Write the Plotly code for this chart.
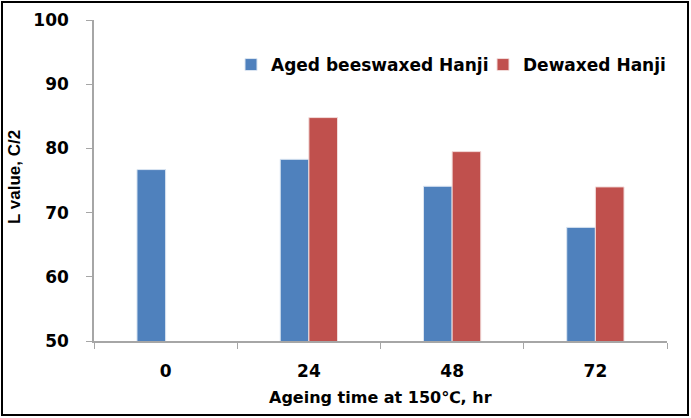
import plotly.graph_objects as go

categories = ["0", "24", "48", "72"]
aged_beeswaxed = [76.7, 78.3, 74.1, 67.7]
dewaxed = [None, 84.8, 79.5, 74.0]
series_names = ["Aged beeswaxed Hanji", "Dewaxed Hanji"]
y_ticks = [50, 60, 70, 80, 90, 100]
x_title = "Ageing time at 150℃, hr"
y_title = "L value, C/2"

FONT = "DejaVu Sans"

fig = go.Figure()
fig.add_trace(go.Bar(x=categories, y=aged_beeswaxed, name=series_names[0],
                     marker=dict(color="#4F81BD", line=dict(color="#DCE6F2", width=1))))
fig.add_trace(go.Bar(x=categories, y=dewaxed, name=series_names[1],
                     marker=dict(color="#C0504D", line=dict(color="#F2DCDB", width=1))))

W, H = 691, 418
l, r, t, b = 94, 24, 20, 77
pw, ph = W - l - r, H - t - b

fig.update_layout(
    width=W, height=H,
    margin=dict(l=l, r=r, t=t, b=b, autoexpand=False),
    paper_bgcolor="white", plot_bgcolor="white",
    barmode="group", bargap=0.6, bargroupgap=0,
    font=dict(family=FONT, color="black", weight="bold"),
    showlegend=True,
    legend=dict(orientation="h", x=(231 - l) / pw, y=1 - (65 - t) / ph, xanchor="left", yanchor="middle",
                font=dict(size=17, family=FONT, weight="bold", color="black"),
                bgcolor="rgba(0,0,0,0)", tracegroupgap=0,
                entrywidth=207, entrywidthmode="pixels"),
    xaxis=dict(type="category", showline=True, linecolor="#A6A6A6", linewidth=1.5,
               ticks="outside", tickson="boundaries", ticklen=6, tickcolor="#A6A6A6",
               tickfont=dict(size=17, family=FONT, weight="bold", color="black"),
               ticklabelstandoff=14,
               showgrid=False, automargin=False),
    yaxis=dict(range=[50, 100], tickvals=y_ticks, showline=True, linecolor="#A6A6A6", linewidth=1.5,
               ticks="outside", ticklen=6, tickcolor="#A6A6A6",
               tickfont=dict(size=17, family=FONT, weight="bold", color="black"),
               ticklabelstandoff=14,
               showgrid=False, zeroline=False, automargin=False),
)

# axis titles
fig.add_annotation(text=x_title, xref="paper", yref="paper",
                   x=(380 - l) / pw, y=-(398 - t - ph) / ph, xanchor="center", yanchor="middle",
                   showarrow=False, font=dict(size=16, family=FONT, weight="bold", color="black"))
fig.add_annotation(text=y_title, xref="paper", yref="paper",
                   x=(15 - l) / pw, y=1 - (177 - t) / ph, xanchor="center", yanchor="middle",
                   textangle=-90, showarrow=False,
                   font=dict(size=17, family="Liberation Sans", weight="bold", color="black"))

# outer frame around the whole picture
fig.add_shape(type="rect", xref="paper", yref="paper",
              x0=(2 - l) / pw, x1=(W - 3 - l) / pw,
              y0=-(b - 3) / ph, y1=1 + (t - 2) / ph,
              line=dict(color="black", width=2), fillcolor="rgba(0,0,0,0)", layer="above")

fig.write_html("out.html", config={"displayModeBar": False},
               post_script="document.body.style.margin='0';")
